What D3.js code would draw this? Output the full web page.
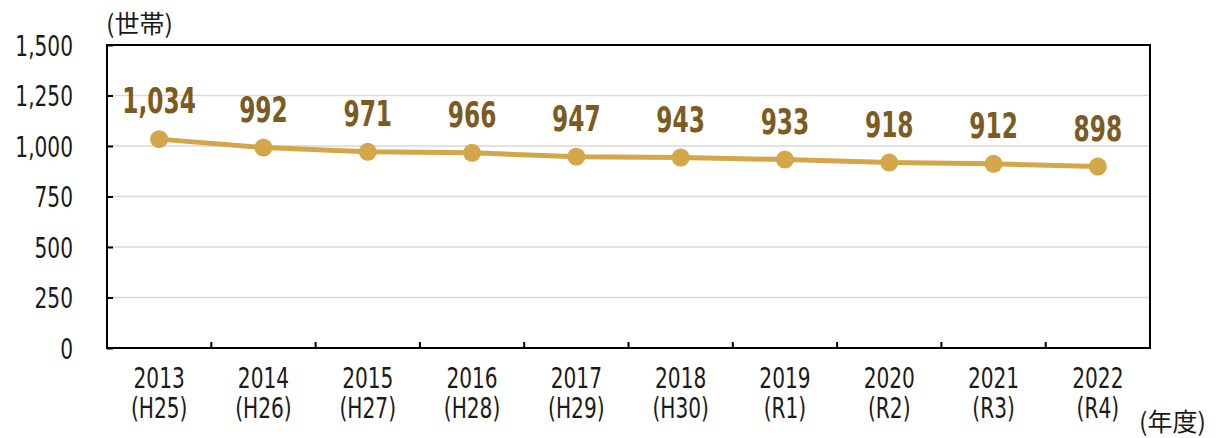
<!DOCTYPE html>
<html>
<head>
<meta charset="utf-8">
<script src="https://cdn.jsdelivr.net/npm/d3@7"></script>
<style>
  body { margin: 0; background: #fff; }
  text { font-family: "Liberation Sans Narrow", "DejaVu Sans Condensed", "Noto Sans CJK JP", sans-serif; }
</style>
</head>
<body>
<div class="svg-container"></div>
<script>
var years = ["2013", "2014", "2015", "2016", "2017", "2018", "2019", "2020", "2021", "2022"];
var eras = ["(H25)", "(H26)", "(H27)", "(H28)", "(H29)", "(H30)", "(R1)", "(R2)", "(R3)", "(R4)"];
var households = [1034, 992, 971, 966, 947, 943, 933, 918, 912, 898];
var yTicks = [0, 250, 500, 750, 1000, 1250, 1500];

function render() {
    var width = 1217, height = 438;
    var plotLeft = 107, plotRight = 1150, plotTop = 45, plotBottom = 348;
    var squeeze = 0.8;      // narrow look of the original font
    var lblSqueeze = 0.74;

    var svg = d3.select(".svg-container").append("svg")
        .attr("width", width)
        .attr("height", height);

    var x = d3.scaleBand().domain(years).range([plotLeft, plotRight]);
    var y = d3.scaleLinear().domain([0, 1500]).range([plotBottom, plotTop]);
    var cx = function(i) { return x(years[i]) + x.bandwidth() / 2; };

    // grid
    svg.append("g")
        .selectAll("line")
        .data(yTicks.filter(function(d) { return d > 0 && d < 1500; }))
        .enter().append("line")
        .attr("x1", plotLeft).attr("x2", plotRight)
        .attr("y1", function(d) { return y(d); })
        .attr("y2", function(d) { return y(d); })
        .attr("stroke", "#d9d9d9")
        .attr("stroke-width", 1.5);

    // frame
    svg.append("rect")
        .attr("x", plotLeft).attr("y", plotTop)
        .attr("width", plotRight - plotLeft).attr("height", plotBottom - plotTop)
        .attr("fill", "none")
        .attr("stroke", "#000")
        .attr("stroke-width", 2);

    // y axis
    var yAxis = svg.append("g")
        .attr("transform", "translate(" + plotLeft + ",0)")
        .call(d3.axisRight(y).tickValues(yTicks).tickSize(6).tickFormat(d3.format(",")));
    yAxis.select(".domain").remove();
    yAxis.selectAll("line").attr("stroke", "#000").attr("stroke-width", 2);
    yAxis.selectAll("text")
        .attr("x", -34 / squeeze)
        .attr("dy", "0.36em")
        .attr("transform", "scale(" + squeeze + ",1)")
        .attr("text-anchor", "end")
        .attr("fill", "#1a1a1a")
        .style("font-size", "28px");

    // x axis ticks at band boundaries (inward)
    svg.append("g")
        .selectAll("line")
        .data(years.slice(1))
        .enter().append("line")
        .attr("x1", function(d) { return x(d); })
        .attr("x2", function(d) { return x(d); })
        .attr("y1", plotBottom).attr("y2", plotBottom - 6)
        .attr("stroke", "#000").attr("stroke-width", 2);

    svg.append("g").selectAll("text")
        .data(years)
        .enter().append("text")
        .attr("transform", function(d, i) { return "translate(" + cx(i) + ",388) scale(" + squeeze + ",1)"; })
        .attr("text-anchor", "middle")
        .attr("fill", "#1a1a1a")
        .style("font-size", "28px")
        .text(function(d) { return d; });

    svg.append("g").selectAll("text")
        .data(eras)
        .enter().append("text")
        .attr("transform", function(d, i) { return "translate(" + cx(i) + ",418) scale(" + squeeze + ",1)"; })
        .attr("text-anchor", "middle")
        .attr("fill", "#1a1a1a")
        .style("font-size", "28px")
        .text(function(d) { return d; });

    // units
    svg.append("text")
        .attr("x", 106).attr("y", 33)
        .attr("fill", "#1a1a1a")
        .style("font-size", "25px")
        .style("font-family", "'Noto Sans CJK JP', sans-serif")
        .text("(世帯)");

    svg.append("text")
        .attr("x", 1139).attr("y", 431)
        .attr("fill", "#1a1a1a")
        .style("font-size", "25px")
        .style("font-family", "'Noto Sans CJK JP', sans-serif")
        .text("(年度)");

    // line
    var line = d3.line()
        .x(function(d, i) { return cx(i); })
        .y(function(d) { return y(d); });

    svg.append("path")
        .datum(households)
        .attr("d", line)
        .attr("fill", "none")
        .attr("stroke", "#d4a64a")
        .attr("stroke-width", 5);

    svg.selectAll("circle.dot")
        .data(households)
        .enter().append("circle")
        .attr("class", "dot")
        .attr("r", 9)
        .attr("cx", function(d, i) { return cx(i); })
        .attr("cy", function(d) { return y(d); })
        .attr("fill", "#d4a64a");

    svg.selectAll("text.lbl")
        .data(households)
        .enter().append("text")
        .attr("class", "lbl")
        .attr("transform", function(d, i) {
            return "translate(" + cx(i) + "," + (y(d) - 26) + ") scale(" + lblSqueeze + ",1)";
        })
        .attr("text-anchor", "middle")
        .attr("fill", "#7b5b1f")
        .style("font-size", "35px")
        .style("font-weight", "bold")
        .text(function(d) { return d3.format(",")(d); });
}

render();
</script>
</body>
</html>
